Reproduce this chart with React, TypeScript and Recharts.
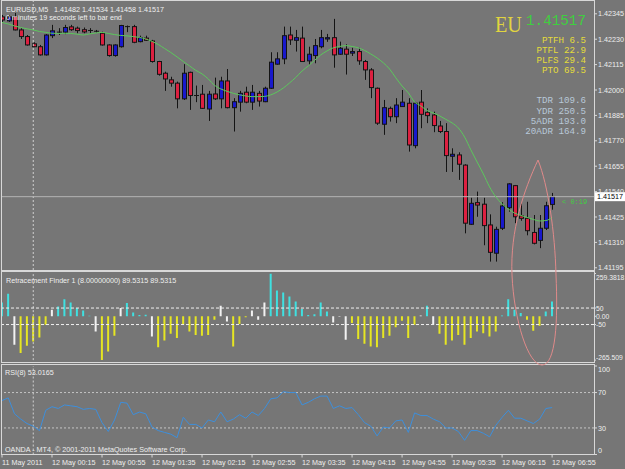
import { ComposedChart, Bar, Line, XAxis, YAxis, ReferenceLine, Cell } from 'recharts';

// EURUSD M5, 11 May 23:35 .. 12 May 06:55 (89 bars)
const opens = [
  1.42331, 1.42313, 1.42333, 1.42272, 1.42242, 1.42209, 1.42196, 1.42159, 1.42246, 1.42263,
  1.42262, 1.42286, 1.4228, 1.42273, 1.42269, 1.42266, 1.42257, 1.42204, 1.42156, 1.42196,
  1.42287, 1.42287, 1.42219, 1.42235, 1.42222, 1.42129, 1.42076, 1.42046, 1.42031, 1.4196,
  1.4208, 1.41975, 1.41981, 1.41914, 1.41982, 1.4196, 1.42041, 1.4192, 1.41945, 1.4199,
  1.41945, 1.41985, 1.41947, 1.42008, 1.42117, 1.42141, 1.42249, 1.42225, 1.42235, 1.42132,
  1.42156, 1.42196, 1.42231, 1.42237, 1.42162, 1.42185, 1.42167, 1.42174, 1.42129, 1.42091,
  1.42008, 1.41845, 1.41917, 1.41879, 1.41925, 1.4194, 1.41748, 1.41945, 1.41899, 1.41887,
  1.41837, 1.41812, 1.417, 1.41706, 1.4166, 1.41392, 1.4149, 1.41483, 1.41389, 1.41261,
  1.41374, 1.41467, 1.41567, 1.4143, 1.41419, 1.41355, 1.41319, 1.41374, 1.41482,
];
const highs = [
  1.4234, 1.4234, 1.42349, 1.4228, 1.42249, 1.42216, 1.42204, 1.42253, 1.42295, 1.4228,
  1.42295, 1.42295, 1.42287, 1.42283, 1.4228, 1.42272, 1.42264, 1.42207, 1.42207, 1.42295,
  1.42292, 1.42295, 1.42246, 1.42246, 1.42227, 1.42132, 1.42083, 1.4206, 1.42038, 1.42117,
  1.42083, 1.4202, 1.42023, 1.41996, 1.42056, 1.4206, 1.42095, 1.41963, 1.41996, 1.42015,
  1.42023, 1.41996, 1.42015, 1.42171, 1.42171, 1.42287, 1.42287, 1.42272, 1.42287, 1.42196,
  1.42231, 1.42272, 1.42254, 1.42322, 1.42219, 1.42207, 1.42191, 1.42191, 1.42136, 1.42099,
  1.42011, 1.41955, 1.41925, 1.41963, 1.42, 1.41963, 1.41946, 1.42, 1.41917, 1.41902,
  1.4186, 1.4185, 1.41736, 1.41718, 1.41664, 1.41512, 1.4154, 1.41512, 1.41437, 1.41381,
  1.41492, 1.41578, 1.4157, 1.4149, 1.41494, 1.41434, 1.41434, 1.41494, 1.41534,
];
const lows = [
  1.42308, 1.42308, 1.4227, 1.42231, 1.42201, 1.42194, 1.42156, 1.42156, 1.42235, 1.42249,
  1.42253, 1.42268, 1.42257, 1.42257, 1.42257, 1.4226, 1.42201, 1.42151, 1.42151, 1.42192,
  1.42262, 1.42212, 1.42216, 1.42222, 1.42124, 1.42065, 1.41996, 1.42015, 1.41917, 1.41955,
  1.4191, 1.41945, 1.41914, 1.4186, 1.41955, 1.41917, 1.41917, 1.41812, 1.41902, 1.4194,
  1.4191, 1.41925, 1.41945, 1.42005, 1.42114, 1.42117, 1.42204, 1.42174, 1.42127, 1.42114,
  1.42121, 1.42189, 1.42218, 1.42101, 1.42159, 1.4207, 1.42154, 1.42114, 1.42046, 1.41963,
  1.41842, 1.41797, 1.41857, 1.4185, 1.41923, 1.41721, 1.41736, 1.41827, 1.4185, 1.41809,
  1.41805, 1.41629, 1.41629, 1.41593, 1.41351, 1.41389, 1.41426, 1.41297, 1.41223, 1.41223,
  1.41366, 1.41449, 1.41397, 1.41408, 1.41342, 1.41301, 1.41284, 1.41366, 1.41458,
];
const closes = [
  1.42317, 1.42331, 1.42272, 1.42242, 1.42204, 1.42196, 1.42159, 1.42249, 1.42268, 1.42261,
  1.42283, 1.42273, 1.42269, 1.42263, 1.4227, 1.42266, 1.42204, 1.42156, 1.42204, 1.42292,
  1.42287, 1.42216, 1.42237, 1.42225, 1.42129, 1.42071, 1.4205, 1.42031, 1.4196, 1.42076,
  1.41975, 1.41975, 1.41917, 1.41981, 1.4196, 1.42041, 1.4192, 1.41947, 1.41985, 1.41945,
  1.4199, 1.4195, 1.42008, 1.42126, 1.42141, 1.42246, 1.42227, 1.42237, 1.42129, 1.42162,
  1.42201, 1.42237, 1.42237, 1.42159, 1.42189, 1.42162, 1.42174, 1.42132, 1.42091, 1.42011,
  1.4185, 1.4192, 1.41879, 1.41932, 1.41945, 1.41751, 1.4194, 1.4189, 1.41884, 1.41839,
  1.41812, 1.41703, 1.41709, 1.41664, 1.41397, 1.41487, 1.41479, 1.41386, 1.41265, 1.41369,
  1.41475, 1.41575, 1.41426, 1.41419, 1.41363, 1.41306, 1.41374, 1.41476, 1.41517,
];
const maValues = [
  1.42306, 1.42299, 1.4229, 1.42283, 1.42277, 1.42272, 1.42265, 1.42261, 1.42257, 1.42256,
  1.42257, 1.42256, 1.42253, 1.42249, 1.42254, 1.42258, 1.42261, 1.42256, 1.42251, 1.42247,
  1.42245, 1.42242, 1.42238, 1.42231, 1.4222, 1.42206, 1.42188, 1.4217, 1.4215, 1.42129,
  1.42109, 1.42089, 1.42073, 1.4205, 1.42021, 1.42005, 1.41994, 1.41985, 1.41978, 1.41973,
  1.4197, 1.4197, 1.41971, 1.41978, 1.41991, 1.42009, 1.42032, 1.42057, 1.42086, 1.42109,
  1.42134, 1.42159, 1.42177, 1.42191, 1.42197, 1.42201, 1.42197, 1.42191, 1.42179, 1.42163,
  1.42145, 1.42123, 1.42095, 1.42055, 1.42018, 1.41987, 1.41946, 1.41928, 1.41907, 1.41896,
  1.41883, 1.41867, 1.41851, 1.41828, 1.41787, 1.41729, 1.41674, 1.4162, 1.41561, 1.41516,
  1.41484, 1.41461, 1.41443, 1.41432, 1.41423, 1.41414, 1.41407, 1.41409, 1.41422,
];
// Retracement Finder histogram
const rfValues = [
  84, 136, -173, -223, -179, -153, -128, -52, 39, 59,
  104, 84, 50, 35, 4, -92, -265.509, -213, -118, 50,
  80, 23, 8, 10, -122, -187, -147, -106, -132, -52,
  -92, -113, -118, -113, -21, 64, -31, -183, -47, -6,
  35, -21, 84, 259.3818, 156, 144, 120, 90, 44, 8,
  12, 84, 29, -37, -3, -142, -41, -138, -167, -183,
  -187, -132, -118, -67, -27, -132, -52, 5, 64, -52,
  -106, -173, -147, -113, -173, -132, -92, -103, -122, -92,
  5, 104, 39, 20, -21, -87, -58, 29, 89.5315,
];
const rfTrend = [
  'up', 'up', 'flat', 'down', 'down', 'down', 'down', 'down', 'flat', 'up',
  'up', 'up', 'up', 'up', 'up', 'flat', 'down', 'down', 'down', 'flat',
  'up', 'up', 'up', 'up', 'flat', 'down', 'down', 'down', 'down', 'down',
  'down', 'down', 'down', 'down', 'down', 'flat', 'flat', 'down', 'down', 'down',
  'flat', 'flat', 'flat', 'up', 'up', 'up', 'up', 'up', 'up', 'up',
  'up', 'up', 'up', 'flat', 'flat', 'flat', 'down', 'down', 'down', 'down',
  'down', 'down', 'down', 'down', 'down', 'down', 'down', 'flat', 'up', 'flat',
  'down', 'down', 'down', 'down', 'down', 'down', 'down', 'down', 'down', 'down',
  'up', 'up', 'up', 'up', 'down', 'down', 'down', 'up', 'up',
];
const rsiValues = [
  61, 64, 46, 40, 35, 32, 27, 50, 54, 52,
  56, 55, 54, 51, 52, 51, 36, 26, 39, 59,
  58, 45, 48, 46, 31, 27, 25, 23, 19, 42,
  34, 34, 30, 39, 37, 48, 37, 40, 45, 41,
  48, 44, 52, 63, 64, 71, 70, 70, 56, 59,
  63, 66, 66, 52, 55, 52, 53, 45, 36, 32,
  21, 31, 30, 38, 39, 25, 47, 44, 44, 40,
  37, 30, 30, 26, 16, 27, 27, 24, 20, 33,
  42, 50, 41, 41, 38, 35, 40, 52, 53.0165,
];

const timeTickBars = [0, 8, 16, 24, 32, 40, 48, 56, 64, 72, 80, 88];
const timeTickLabels = [
  '11 May 2011', '12 May 00:15', '12 May 00:55', '12 May 01:35', '12 May 02:15', '12 May 02:55',
  '12 May 03:35', '12 May 04:15', '12 May 04:55', '12 May 05:35', '12 May 06:15', '12 May 06:55',
];
const priceTicks = [1.42345, 1.4223, 1.42115, 1.42, 1.41885, 1.4177, 1.41655, 1.4154, 1.41425, 1.4131, 1.41195];
const rfTicks = [259.3818, 50, 0, -50, -265.509];
const rfTickLabels = ['259.3818', '50', '0.00', '-50', '-265.509'];
const rsiTicks = [100, 70, 30, 0];

const bidPrice = 1.41517;
const daySeparatorBar = 5;

const bars = opens.map((open, i) => ({
  i,
  open,
  high: highs[i],
  low: lows[i],
  close: closes[i],
  ma: maValues[i],
  rf: rfValues[i],
  trend: rfTrend[i],
  rsi: rsiValues[i],
}));

const BG = '#767676';
const FRAME = '#d8d8d8';
const TXT = '#eeeeee';
const SANS = "'Liberation Sans', Arial, sans-serif";
const MONO = "'Liberation Mono', 'Courier New', monospace";
const X_DOMAIN: [number, number] = [0, 94.7];
const trendColor: Record<string, string> = { up: '#3fe0e0', down: '#e6e622', flat: '#f2f2f2' };

// right-hand value labels; the first/last label of a sub-window sits inside it
function makeYTick(format: (v: number) => string, shift: Record<string, number>, size = 7.2) {
  return function YTick(props: any) {
    const { x, y, payload } = props;
    const dy = shift[String(payload.value)] || 0;
    return (
      <text x={x} y={y + dy + 2.6} fill={TXT} fontSize={size} fontFamily={SANS}>
        {format(payload.value)}
      </text>
    );
  };
}
const PriceTick = makeYTick((v) => v.toFixed(5), {});
const RfTick = makeYTick((v) => rfTickLabels[rfTicks.indexOf(v)], { '259.3818': 4, '-265.509': -3 }, 6.8);
const RsiTick = makeYTick((v) => String(v), { '100': 3.5, '0': -4 });

function Candle(props: any) {
  const { x, y, width, height, payload } = props;
  if (x == null || y == null || !payload) return null;
  const top = Math.min(y, y + height);
  const span = Math.abs(height);
  const range = payload.high - payload.low;
  const py = (v: number) => (range > 0 ? top + ((payload.high - v) / range) * span : top);
  const c = Math.round(x + width / 2);
  const yo = py(payload.open);
  const yc = py(payload.close);
  const bt = Math.min(yo, yc);
  const bh = Math.abs(yo - yc);
  const up = payload.close > payload.open;
  return (
    <g>
      <line x1={c + 0.5} x2={c + 0.5} y1={top} y2={top + span} stroke="#141414" />
      {bh < 1.2 ? (
        <line x1={c - 2} x2={c + 3} y1={bt + bh / 2} y2={bt + bh / 2} stroke="#141414" />
      ) : (
        <rect x={c - 1.5} y={bt} width={4} height={bh} fill={up ? '#1818cc' : '#dc2040'} stroke="#141414" />
      )}
    </g>
  );
}

function BidLabel(props: any) {
  const { x, y, width } = props.viewBox;
  const right = x + width;
  return (
    <g>
      <text x={right - 32} y={y + 7} fill="#3fcf3f" fontSize={7} fontFamily={MONO}>
        {'< 0:19'}
      </text>
      <rect x={right + 1} y={y - 4.5} width={30} height={9} fill="#ffffff" />
      <text x={right + 3} y={y + 2.8} fill="#000000" fontSize={7.2} fontFamily={SANS}>
        {bidPrice.toFixed(5)}
      </text>
    </g>
  );
}

function TimeTick(props: any) {
  const { x, y, payload } = props;
  const k = timeTickBars.indexOf(payload.value);
  return (
    <text x={x} y={y + 7} fill={TXT} fontSize={7.2} fontFamily={SANS}>
      {timeTickLabels[k]}
    </text>
  );
}

function Frame({ top, height }: { top: number; height: number }) {
  return (
    <div
      style={{
        position: 'absolute',
        left: 1,
        top,
        width: 594,
        height,
        boxSizing: 'border-box',
        border: `1px solid ${FRAME}`,
        pointerEvents: 'none',
      }}
    />
  );
}

export default function App() {
  return (
    <div style={{ position: 'absolute', left: 0, top: 0, width: 625, height: 469, background: BG, overflow: 'hidden' }}>
      {/* price panel */}
      <div style={{ position: 'absolute', left: 0, top: 0 }}>
        <ComposedChart width={625} height={271} data={bars} margin={{ top: 1, right: 0, bottom: 1, left: 2 }}>
          <XAxis type="number" dataKey="i" domain={X_DOMAIN} allowDataOverflow hide />
          <YAxis
            orientation="right"
            width={31}
            domain={[1.41185, 1.42403]}
            allowDataOverflow
            ticks={priceTicks}
            interval={0}
            tick={<PriceTick />}
            tickSize={3}
            tickMargin={1}
            tickLine={{ stroke: FRAME }}
            axisLine={false}
          />
          <ReferenceLine x={daySeparatorBar} stroke="#d0d0d0" strokeDasharray="2 2" />
          <ReferenceLine y={bidPrice} stroke="#b4b4b4" label={<BidLabel />} />
          <Bar
            dataKey={(d: any) => [d.low, d.high]}
            barSize={5}
            shape={(p: any) => <Candle {...p} />}
            isAnimationActive={false}
          />
          <Line type="monotone" dataKey="ma" stroke="#5cc85c" strokeWidth={1} dot={false} isAnimationActive={false} />
        </ComposedChart>
      </div>

      {/* Retracement Finder panel */}
      <div style={{ position: 'absolute', left: 0, top: 270 }}>
        <ComposedChart width={625} height={93} data={bars} margin={{ top: 3.5, right: 0, bottom: 2.9, left: 2 }}>
          <XAxis type="number" dataKey="i" domain={X_DOMAIN} allowDataOverflow hide />
          <YAxis
            orientation="right"
            width={31}
            domain={[-265.509, 259.3818]}
            allowDataOverflow
            ticks={rfTicks}
            interval={0}
            tick={<RfTick />}
            tickSize={2}
            tickMargin={0}
            tickLine={{ stroke: FRAME }}
            axisLine={false}
          />
          <ReferenceLine x={daySeparatorBar} stroke="#d0d0d0" strokeDasharray="2 2" />
          <ReferenceLine y={50} stroke="#f0f0f0" strokeDasharray="3 2" />
          <ReferenceLine y={-50} stroke="#f0f0f0" strokeDasharray="3 2" />
          <Bar dataKey="rf" barSize={2} isAnimationActive={false}>
            {bars.map((b) => (
              <Cell key={b.i} fill={trendColor[b.trend]} />
            ))}
          </Bar>
        </ComposedChart>
      </div>

      {/* RSI panel */}
      <div style={{ position: 'absolute', left: 0, top: 363 }}>
        <ComposedChart width={625} height={106} data={bars} margin={{ top: 3, right: 0, bottom: 0, left: 2 }}>
          <XAxis
            type="number"
            dataKey="i"
            domain={X_DOMAIN}
            allowDataOverflow
            ticks={timeTickBars}
            interval={0}
            height={14.5}
            tick={<TimeTick />}
            tickSize={3}
            tickMargin={0}
            tickLine={{ stroke: FRAME }}
            axisLine={false}
          />
          <YAxis
            orientation="right"
            width={31}
            domain={[0, 100]}
            allowDataOverflow
            ticks={rsiTicks}
            interval={0}
            tick={<RsiTick />}
            tickSize={3}
            tickMargin={1}
            tickLine={{ stroke: FRAME }}
            axisLine={false}
          />
          <ReferenceLine x={daySeparatorBar} stroke="#d0d0d0" strokeDasharray="2 2" />
          <ReferenceLine y={70} stroke="#c4c4c4" strokeDasharray="2 2" />
          <ReferenceLine y={30} stroke="#c4c4c4" strokeDasharray="2 2" />
          <Line type="linear" dataKey="rsi" stroke="#3d8fdc" strokeWidth={1} dot={false} isAnimationActive={false} />
        </ComposedChart>
      </div>

      <Frame top={0} height={271} />
      <Frame top={271} height={92} />
      <Frame top={364} height={91} />

      <svg width={625} height={469} style={{ position: 'absolute', left: 0, top: 0, pointerEvents: 'none' }}>
        <g fontFamily={SANS} fontSize={7.2} fill={TXT}>
          <text x={6} y={12}>EURUSD,M5</text>
          <text x={54} y={12}>1.41482 1.41534 1.41458 1.41517</text>
          <text x={6} y={19.5}>0 minutes 19 seconds left to bar end</text>
          <text x={6} y={282.5}>Retracement Finder 1 (8.00000000) 89.5315 89.5315</text>
          <text x={5} y={375}>RSI(8) 53.0165</text>
          <text x={5} y={452}>OANDA - MT4, © 2001-2011 MetaQuotes Software Corp.</text>
        </g>
        <text x={495} y={31.5} fill="#e0d440" fontSize={24} fontFamily="'Liberation Serif', serif" textLength={27} lengthAdjust="spacingAndGlyphs">
          EU
        </text>
        <text x={526} y={24.5} fill="#3fcf3f" fontSize={14} fontFamily={MONO} textLength={60} lengthAdjust="spacingAndGlyphs">
          1.41517
        </text>
        <g fontFamily={MONO} fontSize={9.2} fill="#e4dc3a" textAnchor="end">
          <text x={586} y={42.7}>PTFH 6.5</text>
          <text x={586} y={52.8}>PTFL 22.9</text>
          <text x={586} y={63}>PLFS 29.4</text>
          <text x={586} y={73.2}>PTO 69.5</text>
        </g>
        <g fontFamily={MONO} fontSize={9.2} fill="#b8c8d8" textAnchor="end">
          <text x={586} y={103.3}>TDR 109.6</text>
          <text x={586} y={113.5}>YDR 250.5</text>
          <text x={586} y={123.8}>5ADR 193.0</text>
          <text x={586} y={134}>20ADR 164.9</text>
        </g>
        <path
          d="M 538 160 C 524 190, 510 230, 512 275 C 514 320, 528 365, 542 365 C 556 365, 558 320, 556 275 C 555 232, 548 185, 538 160 Z"
          fill="none"
          stroke="#e08a8a"
          strokeWidth={1}
        />
      </svg>
    </div>
  );
}
